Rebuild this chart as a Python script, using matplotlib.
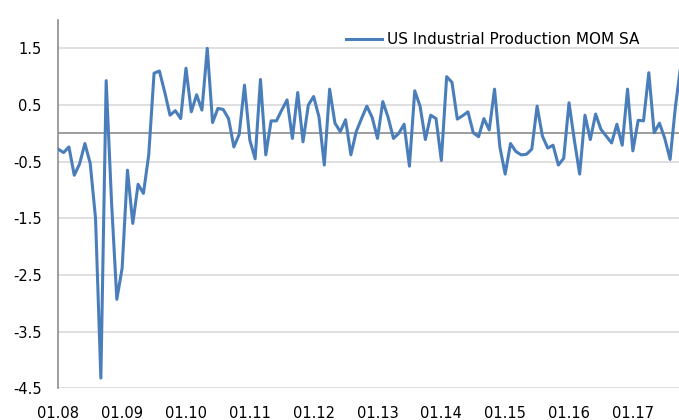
import numpy as np
import matplotlib
matplotlib.use('Agg')
import matplotlib.pyplot as plt

# US industrial production, month on month, Jan 2008 onwards
ip_mom = [-0.28, -0.34, -0.24, -0.74, -0.54, -0.18, -0.53, -1.50, -4.32, 0.93, -1.20, -2.93,
          -2.38, -0.65, -1.59, -0.90, -1.06, -0.38, 1.06, 1.10, 0.73, 0.32, 0.40, 0.26,
          1.15, 0.38, 0.68, 0.41, 1.50, 0.19, 0.44, 0.42, 0.26, -0.24, -0.02, 0.85,
          -0.12, -0.45, 0.95, -0.38, 0.22, 0.22, 0.41, 0.59, -0.09, 0.72, -0.15, 0.50,
          0.65, 0.29, -0.56, 0.78, 0.18, 0.03, 0.24, -0.38, 0.03, 0.26, 0.48, 0.28,
          -0.09, 0.56, 0.28, -0.09, 0.00, 0.16, -0.58, 0.75, 0.48, -0.11, 0.32, 0.26,
          -0.48, 1.00, 0.90, 0.25, 0.31, 0.38, 0.01, -0.06, 0.26, 0.06, 0.78, -0.24,
          -0.72, -0.18, -0.32, -0.38, -0.37, -0.28, 0.48, -0.05, -0.26, -0.21, -0.56, -0.44,
          0.54, -0.12, -0.72, 0.32, -0.11, 0.34, 0.07, -0.05, -0.17, 0.16, -0.21, 0.78,
          -0.31, 0.23, 0.22, 1.07, 0.01, 0.18, -0.09, -0.46, 0.47, 1.20]

x_labels = ['01.08', '01.09', '01.10', '01.11', '01.12',
            '01.13', '01.14', '01.15', '01.16', '01.17']
y_ticks = [1.5, 0.5, -0.5, -1.5, -2.5, -3.5, -4.5]
y_labels = ['1.5', '0.5', '-0.5', '-1.5', '-2.5', '-3.5', '-4.5']

W, H = 679, 420
fig = plt.figure(figsize=(W / 100, H / 100), dpi=100)
ax = fig.add_axes([58.3 / W, 31.7 / H, (W - 58.3) / W, 368.3 / H])

x = np.arange(len(ip_mom))
line, = ax.plot(x, ip_mom, color='#4a7ebb', lw=2.2, zorder=3,
                label='US Industrial Production MOM SA')

# zero line is darker than the grid
ax.axhline(0, color='#8c8c8c', lw=1.2, zorder=2)

ax.set_xlim(0, (W - 58.3) / 5.32)
ax.set_ylim(-4.5, 2.0)
ax.set_yticks(y_ticks)
ax.set_yticklabels(y_labels)
ax.set_xticks(np.arange(0, 12 * len(x_labels), 12))
ax.set_xticklabels(x_labels)

ax.grid(axis='y', color='#d9d9d9', lw=1.2, zorder=1)
ax.tick_params(axis='both', length=0, labelsize=10.5, colors='black')
ax.tick_params(axis='y', pad=12)
ax.tick_params(axis='x', pad=13)

for s in ['top', 'right', 'bottom']:
    ax.spines[s].set_visible(False)
ax.spines['left'].set_color('#8c8c8c')
ax.spines['left'].set_linewidth(1.2)

ax.legend(handles=[line], loc='center left', frameon=False, fontsize=11,
          bbox_to_anchor=(338 / W, 1 - 39.5 / H), bbox_transform=fig.transFigure,
          borderpad=0, handlelength=2.4, handletextpad=0.3)

fig.savefig('out.png', dpi=100)
